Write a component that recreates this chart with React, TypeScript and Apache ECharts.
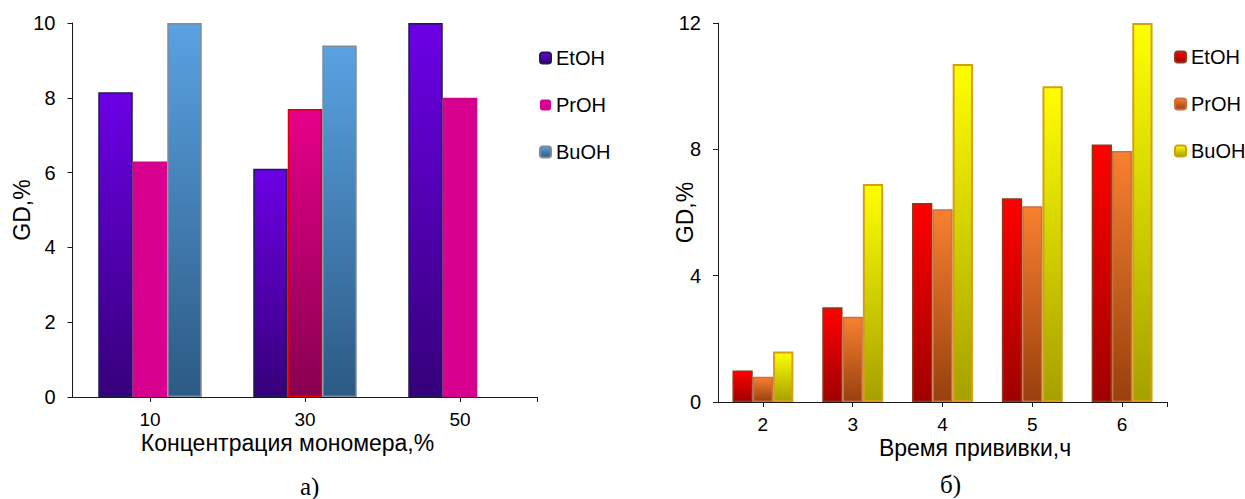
import { useEffect, useRef } from "react";
import * as echarts from "echarts";

// ---- Left chart (а) ----
const leftCategories = ["10", "30", "50"];
const leftEtOH = [8.15, 6.1, 10];
const leftPrOH = [6.3, 7.7, 8.0];
const leftBuOH: (number | null)[] = [10, 9.4, null];
const leftYMax = 10;
const leftYStep = 2;

// ---- Right chart (б) ----
const rightCategories = ["2", "3", "4", "5", "6"];
const rightEtOH = [1.0, 3.0, 6.3, 6.45, 8.15];
const rightPrOH = [0.8, 2.7, 6.1, 6.2, 7.95];
const rightBuOH = [1.6, 6.9, 10.7, 10.0, 12];
const rightYMax = 12;
const rightYStep = 4;

const seriesNames = ["EtOH", "PrOH", "BuOH"];
const FONT = "'Liberation Sans', Arial, sans-serif";

const grad = (top: string, bottom: string) =>
  new echarts.graphic.LinearGradient(0, 0, 0, 1, [
    { offset: 0, color: top },
    { offset: 1, color: bottom },
  ]);

export default function App() {
  const ref = useRef<HTMLDivElement>(null);

  useEffect(() => {
    if (!ref.current) return;
    const chart = echarts.init(ref.current, null, { renderer: "svg" });

    const axisLine = { show: true, lineStyle: { color: "#1a1a1a", width: 1 } };
    const axisTick = { show: true, length: 5, lineStyle: { color: "#1a1a1a" } };
    const labelStyle = { color: "#000", fontSize: 19, fontFamily: FONT, lineHeight: 19 };
    const nameStyle = { color: "#000", fontSize: 23, fontFamily: FONT, lineHeight: 23 };

    const xCat = (gridIndex: number, data: string[], name: string, pad: number[]) => ({
      type: "category",
      gridIndex,
      data,
      boundaryGap: true,
      axisLine,
      axisTick: { ...axisTick, alignWithLabel: true },
      axisLabel: { ...labelStyle, margin: 13 },
      splitLine: { show: false },
      name,
      nameLocation: "middle",
      nameGap: 34,
      nameMoveOverlap: false,
      nameTextStyle: { ...nameStyle, padding: pad },
    });

    const xEnd = (gridIndex: number, n: number) => ({
      type: "value",
      gridIndex,
      min: 0,
      max: n,
      position: "bottom",
      axisLine: { show: false },
      axisLabel: { show: false },
      splitLine: { show: false },
      axisTick: { ...axisTick, customValues: [n] },
    });

    const yVal = (gridIndex: number, max: number, step: number, gap: number) => ({
      type: "value",
      gridIndex,
      min: 0,
      max,
      interval: step,
      axisLine,
      axisTick,
      axisLabel: { ...labelStyle, fontSize: 20, lineHeight: 20, margin: 17 },
      splitLine: { show: false },
      name: "GD,%",
      nameLocation: "middle",
      nameGap: gap,
      nameMoveOverlap: false,
      nameTextStyle: nameStyle,
    });

    const leftStyles = [
      { color: grad("#6c00e6", "#36007a"), borderColor: "#1c1c50", borderWidth: 1.5 },
      { color: "#d8008f", borderWidth: 0 },
      { color: grad("#5aa2e2", "#2c5a84"), borderColor: "#7d8c9c", borderWidth: 1.5 },
    ];
    const rightStyles = [
      { color: grad("#ff0000", "#a00000"), borderColor: "#8a3a1a", borderWidth: 1.5 },
      { color: grad("#f88030", "#98400e"), borderColor: "#c87040", borderWidth: 1.5 },
      { color: grad("#ffff00", "#a6a000"), borderColor: "#d4a012", borderWidth: 2 },
    ];

    const leftPrOHData = leftPrOH.map((v, i) =>
      i === 1
        ? {
            value: v,
            itemStyle: { color: grad("#e6008a", "#880050"), borderColor: "#e00000", borderWidth: 1.5 },
          }
        : v
    );

    const leftData = [leftEtOH, leftPrOHData, leftBuOH];
    const rightData = [rightEtOH, rightPrOH, rightBuOH];

    const series: any[] = [];
    seriesNames.forEach((n, i) => {
      series.push({
        type: "bar",
        name: n,
        xAxisIndex: 0,
        yAxisIndex: 0,
        data: leftData[i],
        barWidth: 34.5,
        barGap: "0%",
        itemStyle: leftStyles[i],
      });
    });
    seriesNames.forEach((n, i) => {
      series.push({
        type: "bar",
        name: n + "·б",
        xAxisIndex: 2,
        yAxisIndex: 1,
        data: rightData[i],
        barWidth: 20.3,
        barGap: "0%",
        itemStyle: rightStyles[i],
      });
    });

    const legendBase = {
      orient: "vertical",
      itemWidth: 11,
      itemHeight: 11,
      itemGap: 27,
      textStyle: { color: "#000", fontSize: 20, fontFamily: FONT, lineHeight: 20 },
      formatter: (n: string) => n.split("·")[0],
      selectedMode: false,
    };

    chart.setOption({
      animation: false,
      backgroundColor: "#fff",
      grid: [
        { left: 72.5, top: 23, width: 465, height: 374 },
        { left: 718, top: 23, width: 449, height: 379 },
      ],
      xAxis: [
        xCat(0, leftCategories, "Концентрация мономера,%", [0, 35, 0, 0]),
        xEnd(0, leftCategories.length),
        xCat(1, rightCategories, "Время прививки,ч", [0, 0, 0, 65]),
        xEnd(1, rightCategories.length),
      ],
      yAxis: [yVal(0, leftYMax, leftYStep, 39), yVal(1, rightYMax, rightYStep, 22)],
      legend: [
        { ...legendBase, left: 534, top: 43, data: seriesNames },
        { ...legendBase, left: 1169, top: 42, data: seriesNames.map((n) => n + "·б") },
      ],
      graphic: [
        {
          type: "text",
          left: 300,
          top: 474,
          style: { text: "а)", fontSize: 25, fontFamily: "'Liberation Serif', 'Times New Roman', serif", fill: "#000" },
        },
        {
          type: "text",
          left: 940,
          top: 472,
          style: { text: "б)", fontSize: 25, fontFamily: "'Liberation Serif', 'Times New Roman', serif", fill: "#000" },
        },
      ],
      series,
    });

    return () => chart.dispose();
  }, []);

  return (
    <div
      ref={ref}
      style={{ position: "fixed", left: 0, top: 0, width: 1245, height: 499, background: "#fff" }}
    />
  );
}
